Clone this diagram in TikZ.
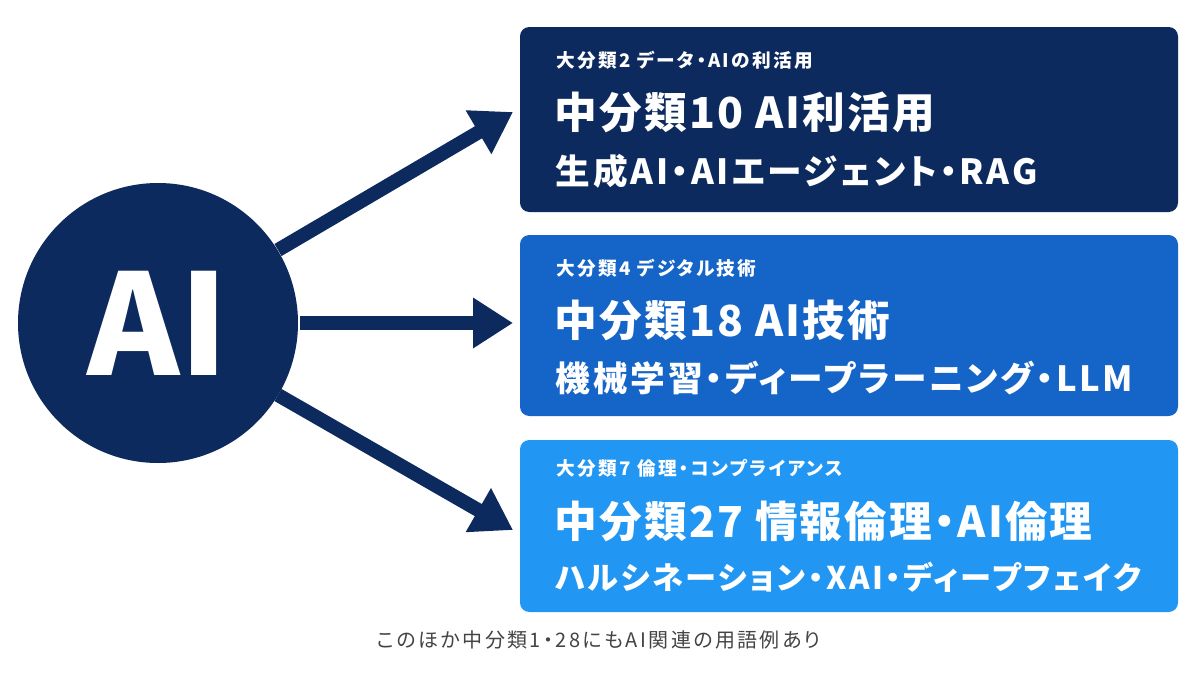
\documentclass[tikz,border=0pt]{standalone}
\usepackage{graphicx}
\usepackage{fontspec}
\setmainfont{Noto Sans CJK JP}
\newfontfamily\jpA[LetterSpace=12,RawFeature=+palt]{Noto Sans CJK JP}
\newfontfamily\jpB[LetterSpace=5,RawFeature=+palt]{Noto Sans CJK JP}
\newfontfamily\jpC[LetterSpace=8,RawFeature=+palt]{Noto Sans CJK JP}
\newfontfamily\jpD[LetterSpace=12,RawFeature=+palt]{Noto Sans CJK JP}
\newsavebox\fitbox
\newcommand\fitw[2]{\sbox\fitbox{#2}\ifdim\wd\fitbox>#1\relax\resizebox{#1}{!}{\usebox\fitbox}\else\usebox\fitbox\fi}
\usetikzlibrary{arrows.meta}
\definecolor{navy}{HTML}{0D2A5E}
\definecolor{bmid}{HTML}{1565C8}
\definecolor{blight}{HTML}{2196F3}
\definecolor{foot}{HTML}{444444}
\begin{document}
\begin{tikzpicture}[x=0.75pt,y=-0.75pt,
  box/.style={rounded corners=7pt,inner sep=0pt},
  small/.style={anchor=west,text=white,font=\jpA\fontsize{14}{16}\selectfont\bfseries},
  title/.style={anchor=west,text=white,font=\jpB\fontsize{32}{36}\selectfont\bfseries},
  sub/.style={anchor=west,text=white,font=\jpC\fontsize{26}{30}\selectfont\bfseries},
  arr/.style={navy,line width=10.5pt,-{Triangle[length=30pt,width=36pt]}}]
\useasboundingbox (0,0) rectangle (1200,675);
\fill[white] (0,0) rectangle (1200,675);
\node[circle,fill=navy,minimum size=210pt,inner sep=0pt] (ai) at (158,323) {};
\node[text=white,font=\fontsize{105}{110}\selectfont\bfseries] (ait) at (158,323) {AI};
\fill[navy,box] (520,27) rectangle (1178,212);
\fill[bmid,box] (520,235) rectangle (1178,416);
\fill[blight,box] (520,440) rectangle (1178,612);
\coordinate (b1) at (513,112);
\coordinate (b2) at (513,323);
\coordinate (b3) at (513,530);
\coordinate (s1) at (278,250);
\coordinate (s2) at (300,323);
\coordinate (s3) at (278,395);
\draw[arr] (s1) -- (b1);
\draw[arr] (s2) -- (b2);
\draw[arr] (s3) -- (b3);
\node[small] (a1) at (552,60) {\fitw{214pt}{大分類2 データ・AIの利活用}};
\node[title] (a2) at (550,112) {\fitw{305pt}{中分類10 AI利活用}};
\node[sub] (a3) at (551,171) {\fitw{414pt}{生成AI・AIエージェント・RAG}};
\node[small] (c1) at (552,268) {\fitw{170pt}{大分類4 デジタル技術}};
\node[title] (c2) at (550,320) {\fitw{270pt}{中分類18 AI技術}};
\node[sub] (c3) at (551,378) {\fitw{442pt}{機械学習・ディープラーニング・LLM}};
\node[small] (d1) at (552,468) {\fitw{240pt}{大分類7 倫理・コンプライアンス}};
\node[title] (d2) at (550,521) {\fitw{418pt}{中分類27 情報倫理・AI倫理}};
\node[sub] (d3) at (551,577) {\fitw{439pt}{ハルシネーション・XAI・ディープフェイク}};
\node[text=foot,font=\jpD\fontsize{15}{18}\selectfont] (ft) at (599,640) {\fitw{360pt}{このほか中分類1・28にもAI関連の用語例あり}};
\end{tikzpicture}
\end{document}
